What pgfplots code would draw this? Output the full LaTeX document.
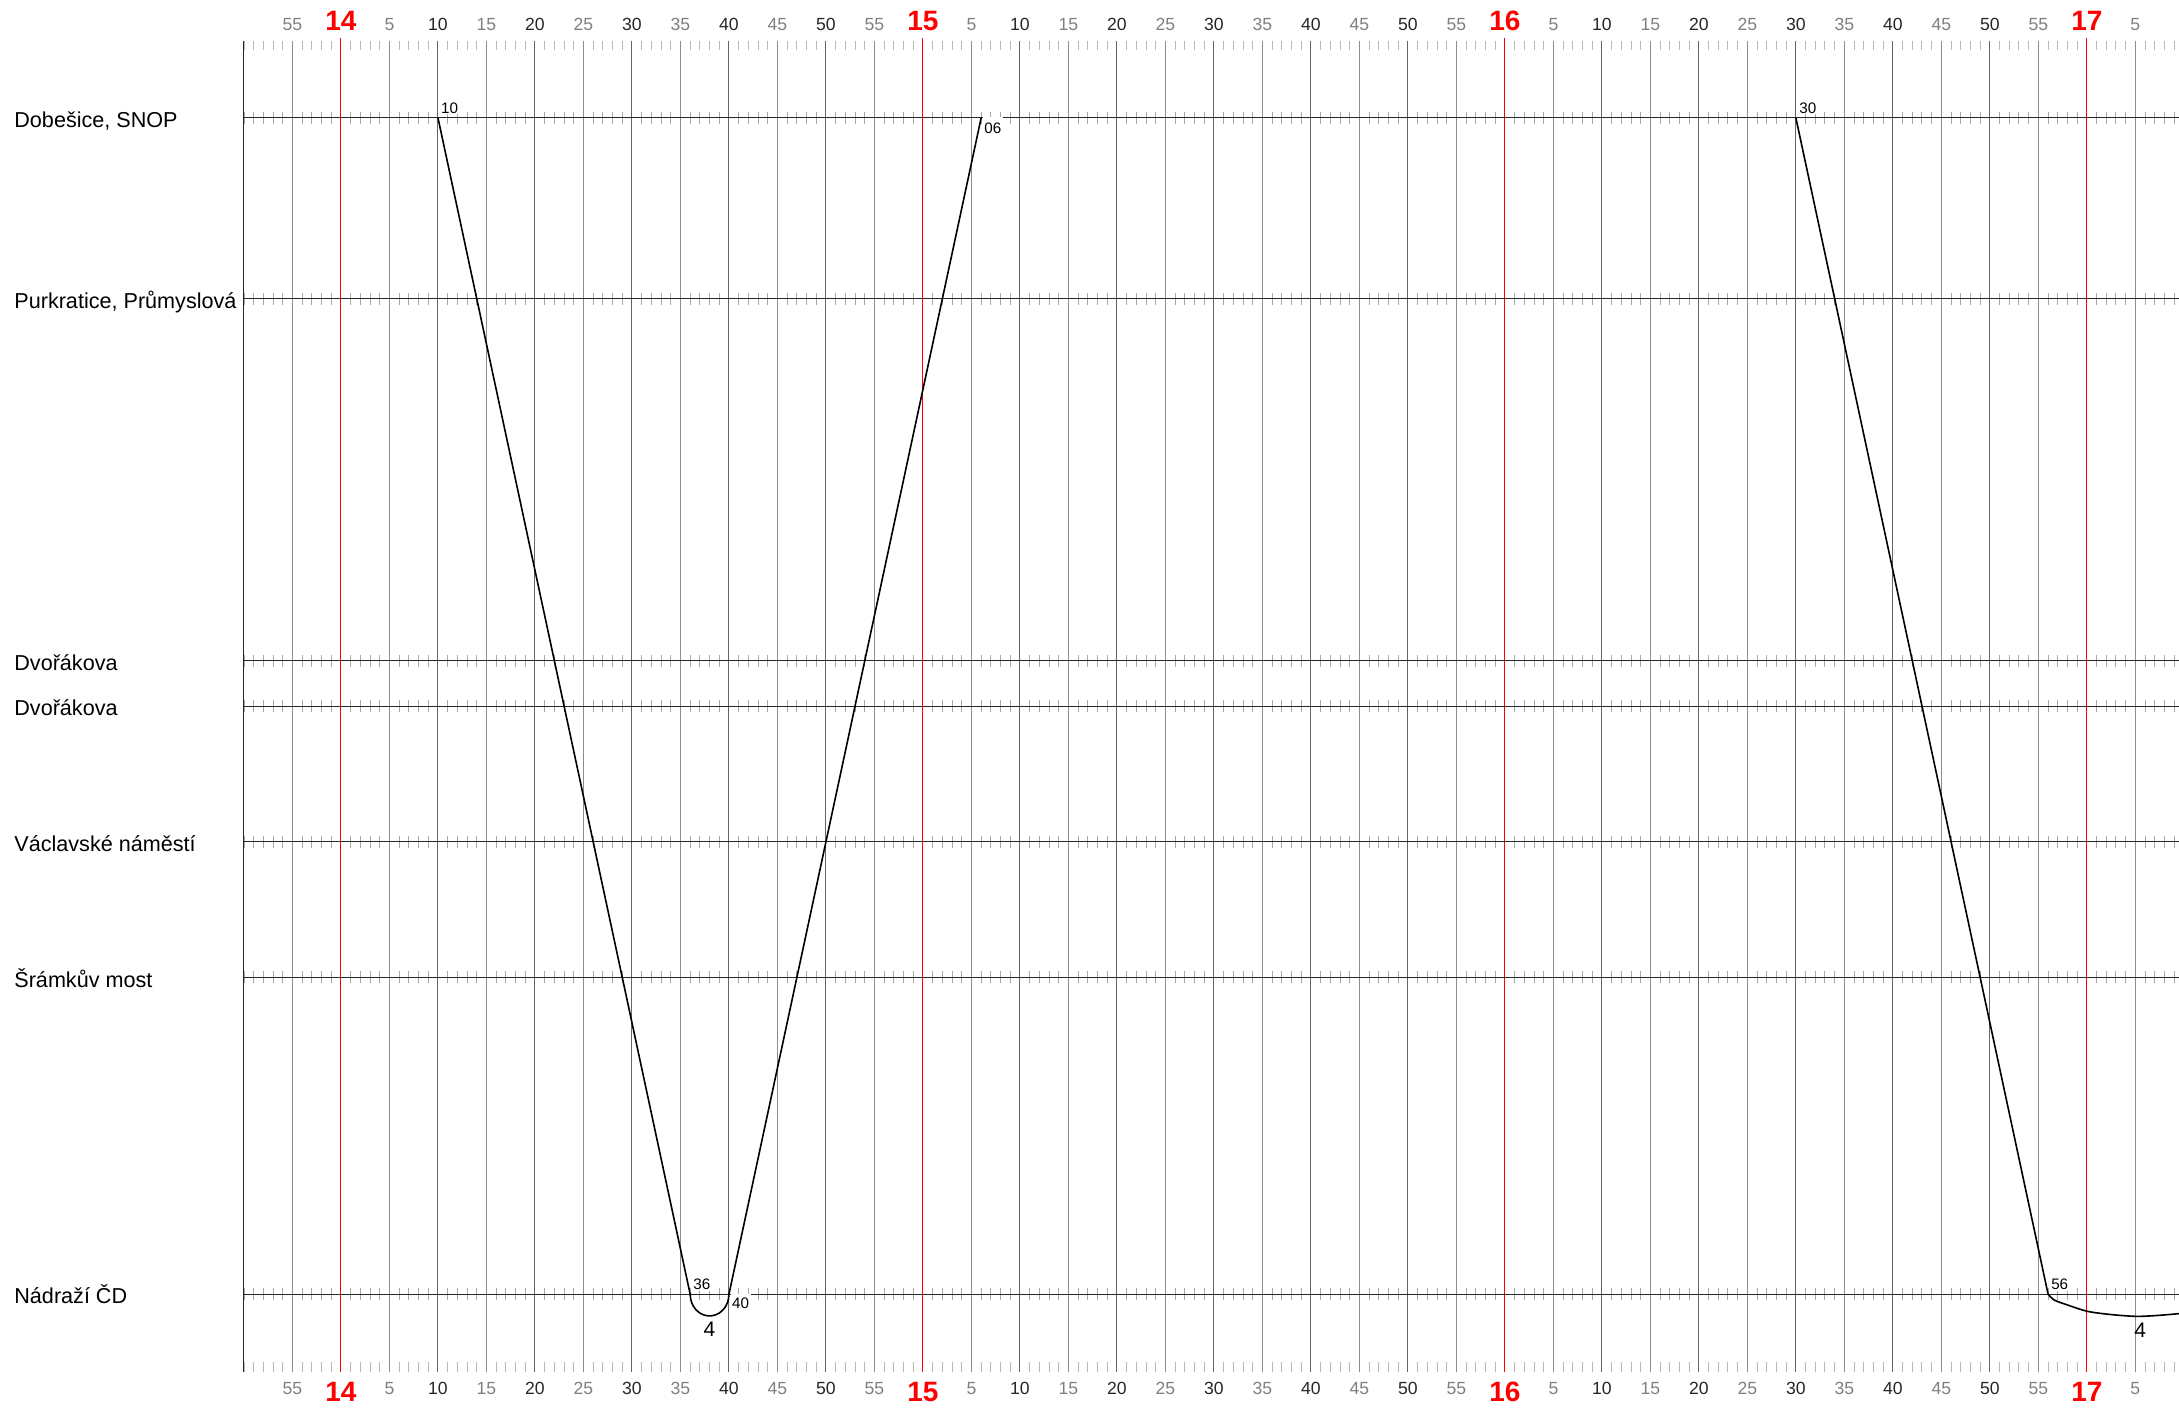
\documentclass[border=0pt]{standalone}
\usepackage{fontspec}
\setmainfont{Liberation Sans}
\usepackage{pgfplots}
\pgfplotsset{compat=1.18}

\definecolor{gridten}{HTML}{666666}
\definecolor{gridfive}{HTML}{8C8C8C}
\definecolor{labgray}{HTML}{7F7F7F}
\definecolor{labdark}{HTML}{262626}
\definecolor{tickgray}{HTML}{A8A8A8}
\definecolor{striptick}{HTML}{B8B8B8}

% minute / ten-minute / hour labels
\newcommand{\M}[1]{\textcolor{labgray}{#1}}
\newcommand{\D}[1]{\textcolor{labdark}{#1}}
\newcommand{\Hr}[1]{\textcolor{red}{\fontsize{14}{16}\selectfont\bfseries #1}}

% x: minutes after 14:00, y: minus running time from Dobesice
\pgfplotsset{
  grafikon/.style={
    scale only axis, width=967.5pt, height=665.5pt,
    xmin=-10, xmax=189.5, ymin=-27.72, ymax=1.70,
    axis line style={draw=none}, major tick length=0pt,
    ytick=\empty,
    xtick={-10,-5,...,185},
    xticklabels={{},\M{55},\Hr{14},\M{5},\D{10},\M{15},\D{20},\M{25},\D{30},\M{35},\D{40},\M{45},\D{50},\M{55},
      \Hr{15},\M{5},\D{10},\M{15},\D{20},\M{25},\D{30},\M{35},\D{40},\M{45},\D{50},\M{55},
      \Hr{16},\M{5},\D{10},\M{15},\D{20},\M{25},\D{30},\M{35},\D{40},\M{45},\D{50},\M{55},
      \Hr{17},\M{5}},
  },
  minutes/.style={line width=#1, dash pattern=on 0.5pt off 4.349624pt, dash phase=0.25pt},
  station/.style={draw=black!85, line width=0.5pt},
  train/.style={black, line width=0.8pt},
}
\tikzset{
  tlab/.style={font=\fontsize{7.6}{9}\selectfont, fill=white, inner xsep=0.8pt, inner ysep=0.5pt},
  sname/.style={font=\fontsize{10.8}{12}\selectfont, anchor=base west, inner sep=0pt, xshift=-115pt, yshift=-4.8pt},
}

\begin{document}
\begin{tikzpicture}
\begin{axis}[grafikon, name=main, clip=false,
    xticklabel style={font=\fontsize{8.8}{10}\selectfont, inner sep=0pt, anchor=north, yshift=-5pt},
]
% minute ticks along the top and bottom edge and on every station
\addplot[striptick, minutes=4.5pt] coordinates {(-10,1.602) (189.5,1.602)};
\addplot[striptick, minutes=5pt] coordinates {(-10,-27.61) (189.5,-27.61)};
\pgfplotsinvokeforeach{0,-4,-12,-13,-16,-19,-26}{
  \addplot[tickgray, minutes=6pt] coordinates {(-10,#1) (189.5,#1)};
}

% time grid: 5 min, 10 min, hours
\pgfplotsinvokeforeach{-5,5,15,25,35,45,55,65,75,85,95,105,115,125,135,145,155,165,175,185}{
  \addplot[gridfive, line width=0.5pt] coordinates {(#1,1.70) (#1,-27.72)};
}
\pgfplotsinvokeforeach{10,20,30,40,50,70,80,90,100,110,130,140,150,160,170}{
  \addplot[gridten, line width=0.5pt] coordinates {(#1,1.70) (#1,-27.72)};
}
\pgfplotsinvokeforeach{0,60,120,180}{
  \addplot[red, line width=0.5pt] coordinates {(#1,1.76) (#1,-27.72)};
}
\addplot[labdark, line width=0.5pt] coordinates {(-10,1.70) (-10,-27.72)};

% station lines
\pgfplotsinvokeforeach{0,-4,-12,-13,-16,-19,-26}{
  \addplot[station] coordinates {(-10,#1) (189.5,#1)};
}

% trips
\addplot[train] coordinates {(10,0) (36,-26)};
\addplot[train, smooth] coordinates {
  (36,-26) (36.068,-26.124) (36.268,-26.24) (36.586,-26.339) (37.0,-26.416) (37.482,-26.464)
  (38,-26.48) (38.518,-26.464) (39.0,-26.416) (39.414,-26.339) (39.732,-26.24) (39.932,-26.124) (40,-26)};
\addplot[train] coordinates {(40,-26) (66,0)};
\addplot[train] coordinates {(150,0) (176,-26)};
\addplot[train, smooth] coordinates {
  (176,-26) (176.64,-26.13) (178.02,-26.24) (180.08,-26.38) (182.49,-26.45)
  (185.07,-26.49) (187.30,-26.47) (189.5,-26.43)};

% times at the ends of the trips
\node[tlab, anchor=south west, xshift=0.6pt, yshift=1.5pt] at (axis cs:10,0) {10};
\node[tlab, anchor=north west, inner ysep=0pt, text height=7.9pt, xshift=0.6pt, yshift=0.4pt] at (axis cs:66,0) {06};
\node[tlab, anchor=south west, xshift=0.6pt, yshift=1.5pt] at (axis cs:36,-26) {36};
\node[tlab, anchor=north west, inner ysep=0pt, text height=7.5pt, xshift=0.6pt, yshift=0.4pt] at (axis cs:40,-26) {40};
\node[tlab, anchor=south west, xshift=0.8pt, yshift=1.5pt] at (axis cs:150,0) {30};
\node[tlab, anchor=south west, xshift=0.6pt, yshift=1.5pt] at (axis cs:176,-26) {56};
\node[font=\fontsize{10.5}{12}\selectfont, anchor=north, inner sep=0pt, yshift=-3pt] at (axis cs:38,-26.48) {4};
\node[font=\fontsize{10.5}{12}\selectfont, anchor=north, inner sep=0pt, yshift=-3pt] at (axis cs:185.5,-26.49) {4};

% station names
\node[sname] at (axis cs:-10,0) {Dobešice, SNOP};
\node[sname] at (axis cs:-10,-4) {Purkratice, Průmyslová};
\node[sname] at (axis cs:-10,-12) {Dvořákova};
\node[sname] at (axis cs:-10,-13) {Dvořákova};
\node[sname] at (axis cs:-10,-16) {Václavské náměstí};
\node[sname] at (axis cs:-10,-19) {Šrámkův most};
\node[sname] at (axis cs:-10,-26) {Nádraží ČD};
\end{axis}

% same axis again for the labels along the top
\begin{axis}[grafikon, xticklabel pos=right,
    xticklabel style={font=\fontsize{8.8}{10}\selectfont, inner sep=0pt, anchor=south, yshift=5pt},
]
\end{axis}

\pgfresetboundingbox
\path[use as bounding box] ([xshift=-122pt,yshift=-18.5pt]main.south west) rectangle ([yshift=20.5pt]main.north east);
\end{tikzpicture}
\end{document}
